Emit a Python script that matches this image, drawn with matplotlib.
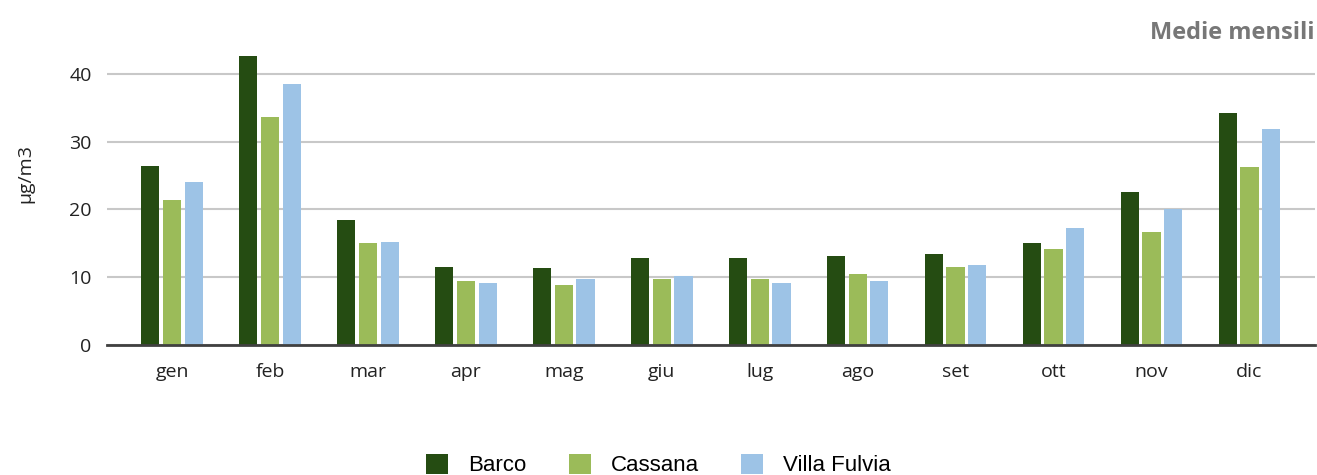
import numpy as np
import matplotlib
matplotlib.use('Agg')
import matplotlib.pyplot as plt

# ---- data (monthly means, ug/m3) ----
months = ['gen', 'feb', 'mar', 'apr', 'mag', 'giu', 'lug', 'ago', 'set', 'ott', 'nov', 'dic']
barco = [26.4, 42.7, 18.4, 11.5, 11.3, 12.9, 12.9, 13.1, 13.4, 15.0, 22.5, 34.2]
cassana = [21.4, 33.6, 15.0, 9.4, 8.9, 9.7, 9.7, 10.4, 11.5, 14.2, 16.6, 26.2]
villa_fulvia = [24.1, 38.5, 15.2, 9.1, 9.7, 10.2, 9.1, 9.4, 11.8, 17.2, 20.0, 31.8]
series_names = ['Barco', 'Cassana', 'Villa Fulvia']
colors = ['#254C12', '#9BBB59', '#9DC3E6']
yticks = [0, 10, 20, 30, 40]

plt.rcParams['font.family'] = ['Open Sans', 'DejaVu Sans']

fig = plt.figure(figsize=(13.17, 4.75), dpi=100)
ax = fig.add_axes([0.0812, 0.2737, 0.9173, 0.628])

x = np.arange(len(months))
w = 0.186
step = 0.222
for i, (vals, name, c) in enumerate(zip([barco, cassana, villa_fulvia], series_names, colors)):
    ax.bar(x + (i - 1) * step, vals, width=w, color=c, label=name, zorder=3)

ax.set_xlim(-0.665, 11.67)
ax.set_ylim(0, 44)
ax.set_yticks(yticks)
ax.set_xticks(x)
ax.set_xticklabels(months)
ax.grid(axis='y', color='#c8c8c8', linewidth=1.5, zorder=0)
ax.tick_params(axis='both', length=0, labelsize=14, colors='#222222')
ax.tick_params(axis='y', pad=11)
ax.tick_params(axis='x', pad=13)
for s in ['top', 'right', 'left']:
    ax.spines[s].set_visible(False)
ax.spines['bottom'].set_color('#404040')
ax.spines['bottom'].set_linewidth(2)
ax.spines['bottom'].set_zorder(4)

fig.text(0.019, 0.635, 'µg/m3', rotation=90, ha='center', va='center', fontsize=14, color='#222222')
fig.text(0.998, 0.93, 'Medie mensili', ha='right', va='center', fontsize=17,
         fontweight='bold', color='#777777')

fig.legend(loc='lower center', bbox_to_anchor=(0.5, -0.045), ncol=3, frameon=False,
           prop={'family': 'Liberation Sans', 'size': 16}, handlelength=1.0, handleheight=1.0,
           columnspacing=1.9, handletextpad=0.9)

fig.savefig('out.png', dpi=100)
